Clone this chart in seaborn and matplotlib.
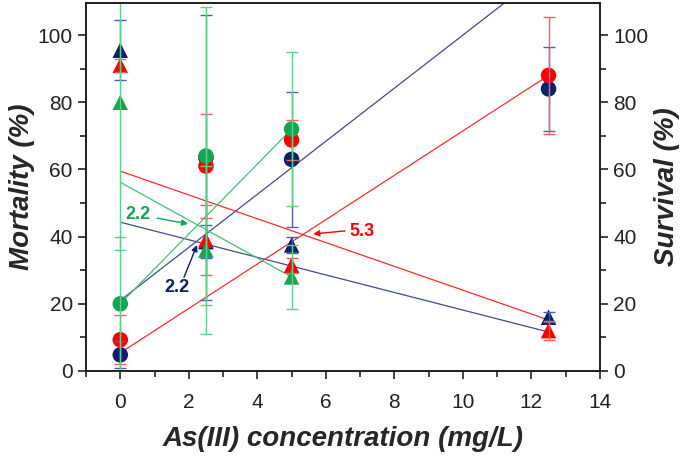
import numpy as np
import pandas as pd
import seaborn as sns
import matplotlib.pyplot as plt
from matplotlib.ticker import MultipleLocator

# --- Data ---
conc = [0, 2.5, 5, 12.5]

# mortality (circles)
mort_blue = [4.8, 63.5, 63, 84]
mort_blue_err = [4, 42.5, 20, 12.5]
mort_red = [9.3, 61, 68.8, 88]
mort_red_err = [7.3, 15.5, 6, 17.4]
mort_green = [20, 64, 72]
mort_green_err = [20, 44.5, 23]

# survival (triangles)
surv_blue = [95.5, 38.5, 37.5, 16]
surv_blue_err = [9, 5, 2.5, 1.5]
surv_red = [91, 39, 31.5, 12]
surv_red_err = [2, 10.4, 2.2, 2.8]
surv_green = [80, 36, 28]
surv_green_err = [44, 25, 9.5]

# straight lines drawn through the data (start/end)
line_blue_up_x, line_blue_up_y = [0, 14], [21, 131.6]
line_blue_dn_x, line_blue_dn_y = [0, 12.5], [44.3, 11.6]
line_red_up_x, line_red_up_y = [0, 12.5], [5.4, 88]
line_red_dn_x, line_red_dn_y = [0, 12.5], [59.5, 15.2]
line_green_up_x, line_green_up_y = [0, 5], [20, 72]
line_green_dn_x, line_green_dn_y = [0, 5], [56.2, 28]

# LC50 labels: text position, arrow tail, arrow head
lc50_labels = ['2.2', '2.2', '5.3']
lc50_text = [(0.52, 46.7), (1.66, 25.0), (7.05, 41.4)]
lc50_tail = [(1.08, 45.5), (1.86, 27.9), (6.56, 41.7)]
lc50_head = [(1.98, 43.8), (2.24, 37.5), (5.63, 40.8)]

NAVY = '#0b1f6b'
RED = '#ff0000'
GREEN = '#12a552'
ERR = {NAVY: '#4a5fb5', RED: '#ff5a5a', GREEN: '#5fd08a'}
LINE = {NAVY: '#3c4e8c', RED: '#ff2a2a', GREEN: '#3fc46f'}

sns.set_style("ticks")
plt.rcParams['font.family'] = ['Liberation Sans', 'DejaVu Sans']

fig = plt.figure(figsize=(6.88, 4.58), dpi=100)
ax = fig.add_axes([0.125, 0.19, 0.747, 0.803])

# fit lines
for lx, ly, c in [(line_blue_up_x, line_blue_up_y, NAVY),
                  (line_blue_dn_x, line_blue_dn_y, NAVY),
                  (line_red_up_x, line_red_up_y, RED),
                  (line_red_dn_x, line_red_dn_y, RED),
                  (line_green_up_x, line_green_up_y, GREEN),
                  (line_green_dn_x, line_green_dn_y, GREEN)]:
    sns.lineplot(x=lx, y=ly, color=LINE[c], lw=0.9, ax=ax, zorder=2)

# markers
series = [
    (conc, mort_blue, NAVY, 'o'), (conc, mort_red, RED, 'o'),
    (conc[:3], mort_green, GREEN, 'o'),
    (conc, surv_blue, NAVY, '^'), (conc, surv_red, RED, '^'),
    (conc[:3], surv_green, GREEN, '^'),
]
for xs, ys, c, m in series:
    sns.scatterplot(x=xs, y=ys, color=c, marker=m, s=125, edgecolor='none',
                    ax=ax, zorder=3)

# error bars
errs = [
    (conc, mort_blue, mort_blue_err, NAVY), (conc, mort_red, mort_red_err, RED),
    (conc[:3], mort_green, mort_green_err, GREEN),
    (conc, surv_blue, surv_blue_err, NAVY), (conc, surv_red, surv_red_err, RED),
    (conc[:3], surv_green, surv_green_err, GREEN),
]
for xs, ys, e, c in errs:
    ax.errorbar(xs, ys, yerr=e, fmt='none', ecolor=ERR[c], elinewidth=1.0,
                capsize=4, capthick=1.0, zorder=4)

# annotations
for lab, txt, tail, head, c in zip(lc50_labels, lc50_text, lc50_tail,
                                   lc50_head, [GREEN, NAVY, RED]):
    ax.text(txt[0], txt[1], lab, color=c, fontsize=13, fontweight='bold',
            ha='center', va='center')
    ax.annotate('', xy=head, xytext=tail,
                arrowprops=dict(arrowstyle='-|>', color=c, lw=1.0,
                                mutation_scale=9, shrinkA=0, shrinkB=0))

ax.set_xlim(-1, 14)
ax.set_ylim(0, 109.5)
ax.xaxis.set_major_locator(MultipleLocator(2))
ax.xaxis.set_minor_locator(MultipleLocator(1))
ax.yaxis.set_major_locator(MultipleLocator(20))
ax.yaxis.set_minor_locator(MultipleLocator(10))
ax.tick_params(which='major', length=6, width=1.2, labelsize=15, direction='out',
               color='#222222', labelcolor='#222222')
ax.tick_params(which='minor', length=4, width=1.2, direction='out', color='#222222')
ax.tick_params(axis='x', which='major', pad=10)
for sp in ax.spines.values():
    sp.set_linewidth(1.3)
    sp.set_color('#222222')
ax.set_xlabel('As(III) concentration (mg/L)', fontsize=20, fontweight='bold',
              style='italic', labelpad=10)
ax.set_ylabel('Mortality (%)', fontsize=20, fontweight='bold', style='italic',
              labelpad=2)

ax2 = ax.twinx()
ax2.set_ylim(ax.get_ylim())
ax2.yaxis.set_major_locator(MultipleLocator(20))
ax2.yaxis.set_minor_locator(MultipleLocator(10))
ax2.tick_params(which='major', length=6, width=1.2, labelsize=15, direction='out',
                color='#222222', labelcolor='#222222')
ax2.tick_params(which='minor', length=4, width=1.2, direction='out', color='#222222')
for sp in ax2.spines.values():
    sp.set_linewidth(1.3)
    sp.set_color('#222222')
ax2.set_ylabel('Survival (%)', fontsize=20, fontweight='bold', style='italic',
               labelpad=4)

fig.savefig('out.png', dpi=100)
